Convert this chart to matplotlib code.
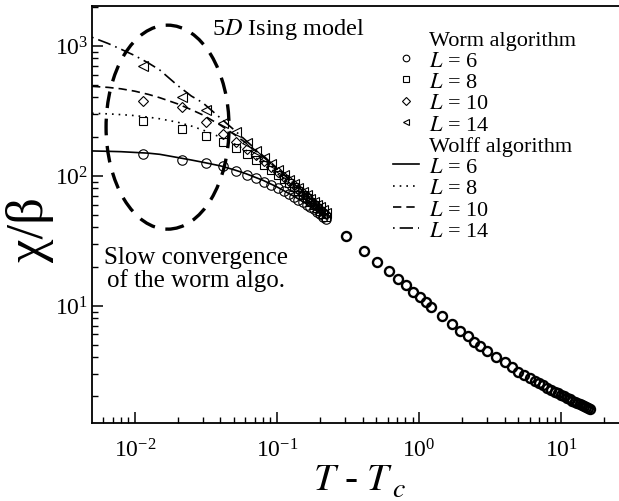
import matplotlib
matplotlib.use('Agg')
import matplotlib.pyplot as plt
from matplotlib.lines import Line2D
from matplotlib.patches import Ellipse
from matplotlib.ticker import NullFormatter

plt.rcParams['font.family'] = ['Liberation Serif', 'DejaVu Serif']
plt.rcParams['mathtext.fontset'] = 'stix'

# ==============================
# データ (T - Tc, chi/beta)
# ==============================
# worm algorithm, low-T region (each L)
t_worm = [0.0115, 0.0215, 0.0315, 0.0415, 0.0515, 0.0615, 0.0715, 0.0815,
          0.0915, 0.1015, 0.1115, 0.1215, 0.1315, 0.1415, 0.1515, 0.1615,
          0.1715, 0.1815, 0.1915, 0.2015, 0.2115, 0.2215]
worm_L6 = [147, 133, 125, 118, 109, 102, 96, 90, 85, 80, 76, 72, 68.5, 65.5,
           62.5, 60, 57.5, 55, 53, 51, 48.5, 46.5]
worm_L8 = [265, 229, 203, 181, 162, 146, 133, 121, 111, 102, 94, 87.5, 81.5,
           76, 71, 67, 63, 59.5, 56.5, 53.5, 51, 48.5]
worm_L10 = [373, 336, 260, 209, 181, 160, 143, 129, 117, 107, 98.5, 91, 84.5,
            79, 74, 69.5, 65.5, 62, 58.5, 55.5, 53, 50.5]
worm_L14 = [702, 405, 320, 254, 216, 178, 155, 137, 122, 111, 101, 93, 86,
            80, 75, 70.5, 66.5, 63, 60, 57, 54.5, 52]

# high-T region (all L coincide)
t_high = [0.306, 0.41, 0.51, 0.61, 0.71, 0.81, 0.91, 1.01, 1.11, 1.21, 1.45,
          1.70, 1.95, 2.20, 2.45, 2.70, 3.0, 3.5, 4.0, 4.5, 5.0, 5.5, 6.0,
          6.5, 7.0, 7.5, 8.0, 8.5, 9.0, 9.5, 10.0, 10.5, 11.0, 11.5, 12.0,
          12.5, 13.0, 13.5, 14.0, 14.5, 15.0, 15.5, 16.0]
chi_high = [34.5, 26.5, 21.8, 18.4, 16.0, 14.3, 12.8, 11.6, 10.6, 9.73, 8.28,
            7.24, 6.43, 5.82, 5.29, 4.87, 4.5, 4.02, 3.67, 3.37, 3.10, 2.92,
            2.77, 2.64, 2.53, 2.43, 2.33, 2.23, 2.17, 2.12, 2.06, 2.00, 1.95,
            1.90, 1.85, 1.81, 1.78, 1.75, 1.72, 1.68, 1.65, 1.63, 1.61]

# wolff algorithm curves
t_wolff = [0.005, 0.0065, 0.008, 0.01, 0.0125, 0.015, 0.02, 0.025, 0.03,
           0.04, 0.05, 0.06, 0.08, 0.1, 0.13, 0.16, 0.2, 0.22]
wolff_L6 = [155, 154, 153, 151, 149, 146, 138, 132, 127, 119, 111, 104, 92,
            82, 70, 61, 51.5, 47.5]
wolff_L8 = [302, 299, 295, 290, 282, 274, 258, 241, 225, 198, 176, 158, 124,
            104, 84, 68, 54.5, 49.5]
wolff_L10 = [487, 478, 466, 447, 422, 398, 357, 322, 294, 245, 208, 180, 140,
             113, 88, 71, 56.5, 51]
wolff_L14 = [1162, 1040, 940, 840, 735, 650, 495, 410, 365, 278, 225, 188,
             142, 114, 89, 72.5, 58, 52.5]

L_labels = ['$L$ = 6', '$L$ = 8', '$L$ = 10', '$L$ = 14']
worm_sets = [worm_L6, worm_L8, worm_L10, worm_L14]
wolff_sets = [wolff_L6, wolff_L8, wolff_L10, wolff_L14]
markers = ['o', 's', 'D', '<']
msizes = [6.8, 6.2, 5.2, 6.8]
lstyles = ['-', (0, (1, 3)), (0, (5, 3)), (0, (1, 3, 8, 3))]

# ==============================
# 描画
# ==============================
fig = plt.figure(figsize=(6.19, 5.02), dpi=100)
ax = fig.add_axes([0.149, 0.1554, 0.851, 0.830])

for ys, ls in zip(wolff_sets, lstyles):
    ax.plot(t_wolff, ys, color='black', lw=1.2, linestyle=ls)

for ys, m, ms in zip(worm_sets, markers, msizes):
    ax.plot(t_worm, ys, linestyle='none', marker=m, ms=ms, mfc='none',
            mec='black', mew=0.8)

ax.plot(t_high, chi_high, linestyle='none', marker='o', ms=6.5, mfc='none',
        mec='black', mew=1.7)

ax.set_xscale('log')
ax.set_yscale('log')
ax.set_xlim(0.00502, 25.5)
ax.set_ylim(1.25, 2010)

ax.spines['right'].set_visible(False)
for s in ['left', 'bottom', 'top']:
    ax.spines[s].set_linewidth(1.3)
ax.tick_params(which='both', direction='in', top=False, right=False)
ax.tick_params(which='major', length=8, width=1.1, labelsize=17)
ax.tick_params(axis='x', which='major', pad=11)
ax.tick_params(axis='y', which='major', pad=3)
ax.tick_params(which='minor', length=4, width=1.0)
ax.xaxis.set_minor_formatter(NullFormatter())
ax.yaxis.set_minor_formatter(NullFormatter())

# 楕円 (遅い収束の領域)
ax.add_patch(Ellipse((0.143, 0.710), 0.2335, 0.4896, transform=ax.transAxes,
                     fill=False, edgecolor='black', lw=2.4,
                     linestyle=(0, (5, 3.2))))

ax.text(0.2275, 0.934, '5$D$ Ising model', transform=ax.transAxes,
        fontsize=17.5, va='baseline', ha='left')
ax.text(0.197, 0.37, 'Slow convergence\nof the worm algo.',
        transform=ax.transAxes, fontsize=18, ha='center', va='center',
        linespacing=1.0)

# 凡例
blank = Line2D([], [], linestyle='none')
handles = [blank]
labels = ['Worm algorithm']
for m, ms, lab in zip(markers, msizes, L_labels):
    handles.append(Line2D([], [], linestyle='none', marker=m, ms=ms * 0.7,
                          mfc='none', mec='black', mew=0.8))
    labels.append(lab)
handles.append(blank)
labels.append('Wolff algorithm')
for ls, lab in zip(lstyles, L_labels):
    handles.append(Line2D([], [], color='black', lw=1.2, linestyle=ls))
    labels.append(lab)

ax.legend(handles, labels, loc='upper left', bbox_to_anchor=(0.571, 0.945),
          frameon=False, fontsize=16, handlelength=1.15, handletextpad=0.45,
          labelspacing=0.03, borderpad=0, borderaxespad=0)

fig.text(353 / 619, 1 - 490 / 502, '$T$ - $T$', fontsize=28,
         ha='center', va='baseline')
fig.text(392 / 619, 1 - 497 / 502, '$c$', fontsize=20,
         ha='left', va='baseline')
fig.text(30 / 619, 1 - 230 / 502, 'χ/β', fontsize=38, rotation=90,
         ha='center', va='center')

fig.savefig('out.png', dpi=100, facecolor='white')
